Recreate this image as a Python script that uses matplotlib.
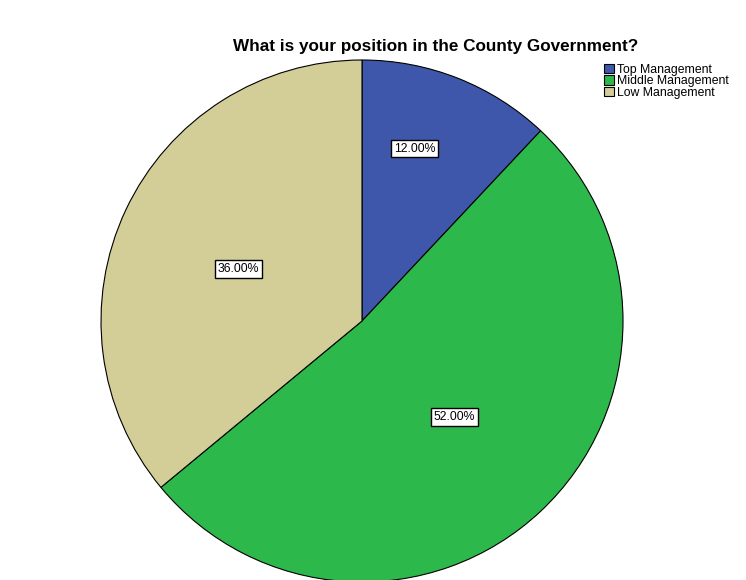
import numpy as np
import matplotlib
matplotlib.use("Agg")
import matplotlib.pyplot as plt

categories = ["Top Management", "Middle Management", "Low Management"]
percent = [12.0, 52.0, 36.0]
colors = ["#3E57AB", "#2DB84B", "#D3CD98"]
title = "What is your position in the County Government?"

plt.rcParams["font.family"] = ["Liberation Sans", "DejaVu Sans"]

W, H = 746, 580
fig = plt.figure(figsize=(W / 100, H / 100), dpi=100)
ax = fig.add_axes([0, 0, 1, 1])

# pie geometry in pixel coords (y measured from bottom)
cx, cy, r = 362, H - 321, 261
wedges, _ = ax.pie(percent, colors=colors, startangle=90, counterclock=False,
                   center=(cx, cy), radius=r, frame=True,
                   wedgeprops=dict(edgecolor="black", linewidth=0.8))
ax.set_xlim(0, W)
ax.set_ylim(0, H)
ax.set_aspect("equal")
ax.axis("off")

# label placement: fraction of radius and angle nudge (deg), per wedge
label_dist = [0.69, 0.51, 0.515]
label_nudge = [4.6, 0.6, 2.4]
for w, p, d, dt in zip(wedges, percent, label_dist, label_nudge):
    mid = np.deg2rad((w.theta1 + w.theta2) / 2 + dt)
    ax.text(cx + d * r * np.cos(mid), cy + d * r * np.sin(mid), f"{p:.2f}%",
            ha="center", va="center", fontsize=8.8,
            bbox=dict(boxstyle="square,pad=0.22", facecolor="white",
                      edgecolor="black", linewidth=1.0))

fig.text(436 / W, 1 - 46 / H, title, ha="center", va="center",
         fontsize=12.3, fontweight="bold")

leg = ax.legend(wedges, categories, loc="upper left",
                bbox_to_anchor=(604 / W, 1 - 64 / H), frameon=False,
                fontsize=8.8, handlelength=0.8, handleheight=0.8,
                handletextpad=0.25, labelspacing=-0.05, borderpad=0,
                borderaxespad=0)
for h in leg.legend_handles:
    h.set_edgecolor("black")
    h.set_linewidth(0.8)

fig.savefig("out.png", dpi=100, facecolor="white")
